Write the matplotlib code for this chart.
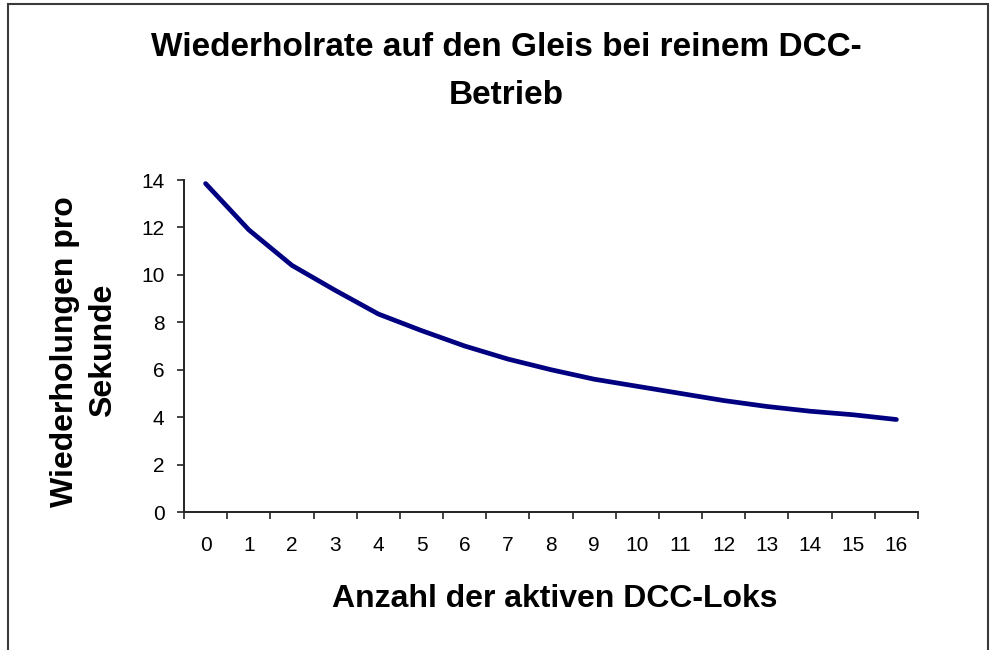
import matplotlib
matplotlib.use("Agg")
import matplotlib.pyplot as plt
from matplotlib.patches import Rectangle
import numpy as np

categories = [str(i) for i in range(17)]
values = [13.85, 11.9, 10.4, 9.35, 8.35, 7.65, 7.0, 6.45, 6.0, 5.6, 5.3, 5.0, 4.7, 4.45, 4.25, 4.1, 3.9]
y_ticks = [0, 2, 4, 6, 8, 10, 12, 14]
title_lines = ["Wiederholrate auf den Gleis bei reinem DCC-", "Betrieb"]
xlabel = "Anzahl der aktiven DCC-Loks"
ylabel_lines = ["Wiederholungen pro", "Sekunde"]

plt.rcParams['font.family'] = ['Liberation Sans', 'DejaVu Sans']

W, H = 991, 650
fig = plt.figure(figsize=(W / 100, H / 100), dpi=100)
fig.patch.set_facecolor('white')

# outer chart frame
fig.add_artist(Rectangle((8 / W, -0.01), (988 - 8) / W, (H - 4) / H + 0.01,
                         transform=fig.transFigure, fill=False,
                         edgecolor='#3a3a3a', linewidth=1.5))

left, right, top, bottom = 184, 918, 180, 512
ax = fig.add_axes([left / W, (H - bottom) / H, (right - left) / W, (bottom - top) / H])

x = np.arange(len(categories))
ax.plot(x, values, color='#000080', linewidth=3.4, solid_capstyle='round',
        solid_joinstyle='round')

ax.set_xlim(-0.5, len(categories) - 0.5)
ax.set_ylim(0, 14)
ax.set_yticks(y_ticks)
ax.set_yticklabels([str(v) for v in y_ticks], fontsize=15)
ax.set_xticks(x)
ax.set_xticklabels(categories, fontsize=15)
ax.set_xticks(np.arange(-0.5, len(categories)), minor=True)
ax.tick_params(axis='x', which='major', length=0, pad=17)
ax.tick_params(axis='x', which='minor', length=5, width=1.2, direction='out', color='#222222')
ax.tick_params(axis='y', length=5, width=1.2, direction='out', color='#222222', pad=9)

for s in ['top', 'right']:
    ax.spines[s].set_visible(False)
for s in ['left', 'bottom']:
    ax.spines[s].set_linewidth(1.4)
    ax.spines[s].set_color('#222222')

fs = 23
fig.text(506 / W, 1 - 48 / H, title_lines[0], ha='center', va='center',
         fontsize=24, fontweight='bold')
fig.text(506 / W, 1 - 96 / H, title_lines[1], ha='center', va='center',
         fontsize=24, fontweight='bold')
fig.text(555 / W, 1 - 599 / H, xlabel, ha='center', va='center',
         fontsize=fs, fontweight='bold')
fig.text(65 / W, 1 - 352 / H, ylabel_lines[0], ha='center', va='center',
         rotation=90, fontsize=fs, fontweight='bold')
fig.text(103 / W, 1 - 350 / H, ylabel_lines[1], ha='center', va='center',
         rotation=90, fontsize=fs, fontweight='bold')

fig.savefig('out.png', dpi=100, facecolor='white')
